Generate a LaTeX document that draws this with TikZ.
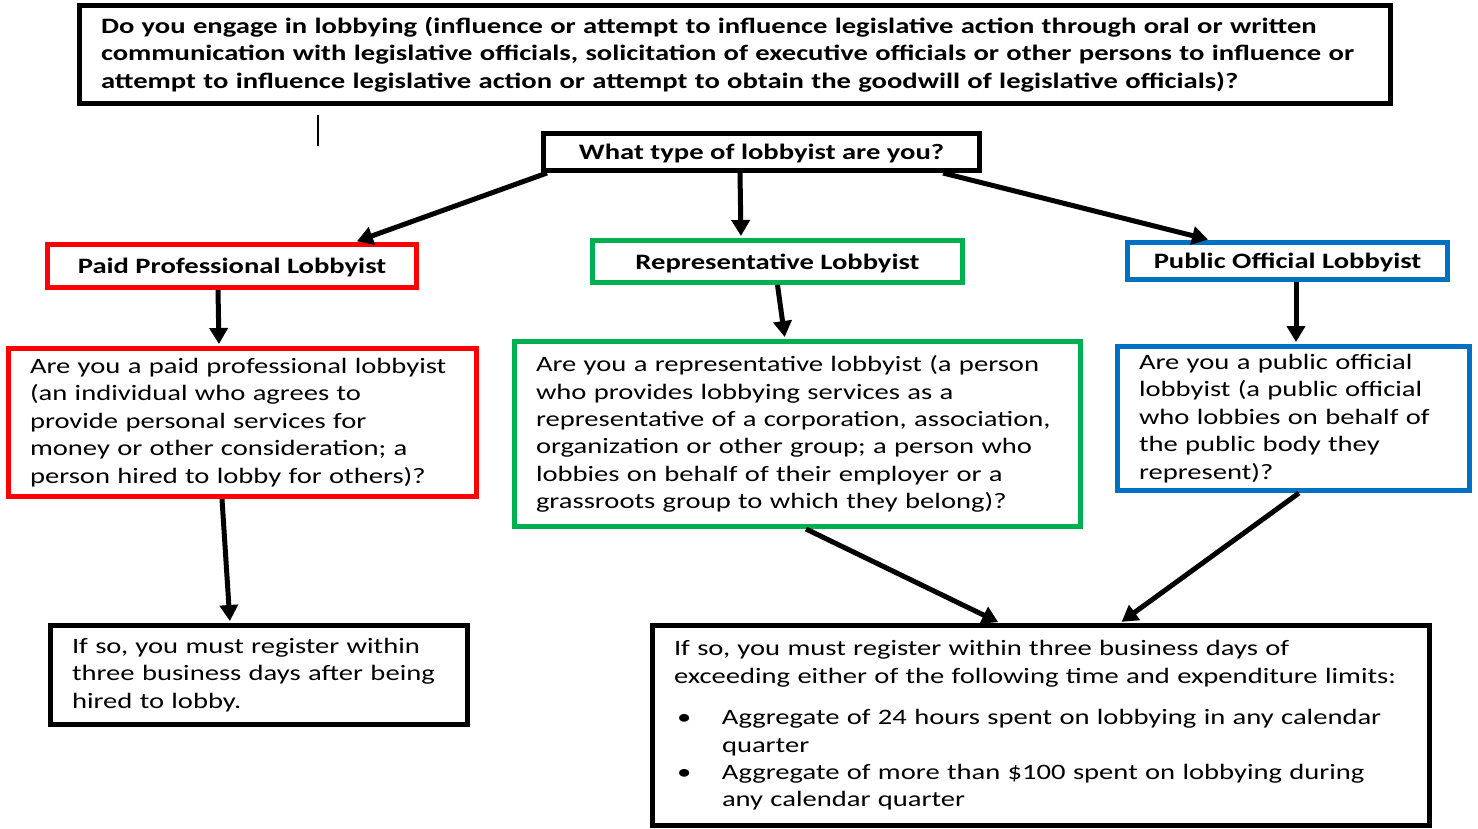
\documentclass[tikz,border=0pt]{standalone}
\usepackage{fontspec}
\setmainfont[FakeStretch=1.3]{Carlito}
\usetikzlibrary{arrows.meta}
\definecolor{paidred}{RGB}{255, 0, 0}
\definecolor{repgreen}{RGB}{0, 176, 80}
\definecolor{pubblue}{RGB}{0, 112, 192}
\definecolor{textblack}{RGB}{0, 0, 0}

\begin{document}
\begin{tikzpicture}[x=0.5pt, y=-0.5pt,
        font=\fontsize{11}{13.7}\selectfont,
        box/.style={rectangle, draw=black, line width=2.5pt, inner ysep=0pt, inner xsep=10.75pt, text=textblack},
        titlebox/.style={box, align=center, text depth=0pt, font=\fontsize{11}{13.7}\selectfont\bfseries},
        qbox/.style={box, align=left},
        flow/.style={-{Triangle[length=8pt, width=9pt]}, line width=2.5pt, shorten >=1pt}
    ]
    \useasboundingbox (0, 0) rectangle (1478, 829);

    % Question on top
    \node[qbox, minimum width=655.5pt, minimum height=49pt, text width=634pt] (lobbying) at (735, 54.5) {\textbf{Do you engage in lobbying (influence or attempt to influence legislative action through oral or written\\ communication with legislative officials, solicitation of executive officials or other persons to influence or\\ attempt to influence legislative action or attempt to obtain the goodwill of legislative officials)?}};
    \draw[line width=0.6pt] (318, 115) -- (318, 146);

    % Lobbyist types
    \node[titlebox, minimum width=218pt, minimum height=18.5pt] (type) at (761.5, 152) {What type of lobbyist are you?};
    \node[titlebox, draw=paidred, minimum width=184.5pt, minimum height=21.5pt] (paid) at (232, 266) {Paid Professional Lobbyist};
    \node[titlebox, draw=repgreen, minimum width=185pt, minimum height=21pt] (rep) at (777.5, 261.5) {Representative Lobbyist};
    \node[titlebox, draw=pubblue, minimum width=160pt, minimum height=18.5pt] (pub) at (1287.5, 261) {Public Official Lobbyist};

    % Definitions
    \node[qbox, draw=paidred, minimum width=234pt, minimum height=74pt, text width=212.5pt] (paiddef) at (242.5, 422.5) {Are you a paid professional lobbyist\\ (an individual who agrees to\\ provide personal services for\\ money or other consideration; a\\ person hired to lobby for others)?};
    \node[qbox, draw=repgreen, minimum width=283pt, minimum height=92.5pt, text width=261.5pt] (repdef) at (797.5, 434) {Are you a representative lobbyist (a person\\ who provides lobbying services as a\\ representative of a corporation, association,\\ organization or other group; a person who\\ lobbies on behalf of their employer or a\\ grassroots group to which they belong)?};
    \node[qbox, draw=pubblue, minimum width=176pt, minimum height=72pt, text width=154.5pt] (pubdef) at (1293.5, 418.5) {Are you a public official\\ lobbyist (a public official\\ who lobbies on behalf of\\ the public body they\\ represent)?};

    % Registration rules
    \node[qbox, minimum width=208.5pt, minimum height=49.5pt, text width=187pt] (hired) at (259, 675) {If so, you must register within\\ three business days after being\\ hired to lobby.};
    \node[qbox, minimum width=388.5pt, minimum height=100pt, text width=367pt] (limits) at (1041, 725.5) {If so, you must register within three business days of\\ exceeding either of the following time and expenditure limits:\par\vspace{7pt}
        \makebox[24pt][l]{\hspace{1.5pt}\textbullet}Aggregate of 24 hours spent on lobbying in any calendar\\ \hspace*{24pt}quarter\\
        \makebox[24pt][l]{\hspace{1.5pt}\textbullet}Aggregate of more than \$100 spent on lobbying during\\ \hspace*{24pt}any calendar quarter};

    % Flows
    \draw[flow] ([xshift=3pt]type.south west) -- ([xshift=61.5pt]paid.north);
    \draw[flow] ([xshift=-10.75pt]type.south) -- ([xshift=-18.25pt]rep.north);
    \draw[flow] ([xshift=90.75pt]type.south) -- ([xshift=-38.75pt]pub.north);
    \draw[flow] ([xshift=-7pt]paid.south) -- ([xshift=-11.75pt]paiddef.north);
    \draw[flow] (rep.south) -- ([xshift=-6.25pt]repdef.north);
    \draw[flow] ([xshift=4.25pt]pub.south) -- ([xshift=1.25pt]pubdef.north);
    \draw[flow] ([xshift=-10.25pt]paiddef.south) -- ([xshift=-14.5pt]hired.north);
    \draw[flow] ([xshift=4.25pt]repdef.south) -- ([xshift=-20.5pt]limits.north);
    \draw[flow] ([xshift=2.75pt]pubdef.south) -- ([xshift=39.5pt]limits.north);

\end{tikzpicture}
\end{document}
